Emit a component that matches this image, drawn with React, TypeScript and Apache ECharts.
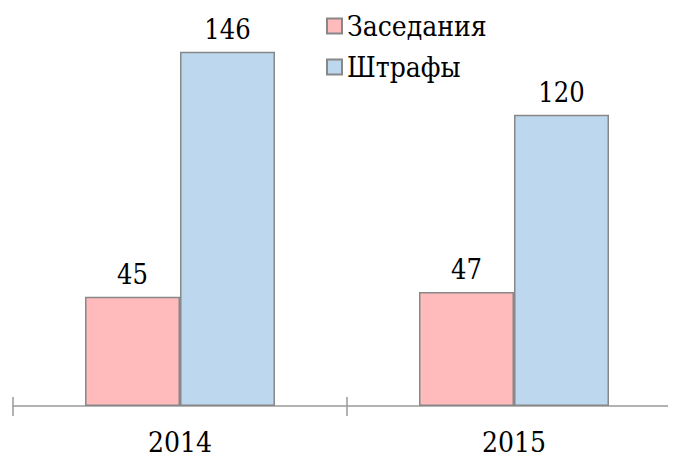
import React, { useEffect, useRef } from "react";
import * as echarts from "echarts";

const categories = ["2014", "2015"];
const seriesNames = ["Заседания", "Штрафы"];
const meetings = [45, 47];
const fines = [146, 120];

const FONT = "DejaVu Serif Condensed, DejaVu Serif";

export default function App() {
  const ref = useRef<HTMLDivElement>(null);
  useEffect(() => {
    if (!ref.current) return;
    const chart = echarts.init(ref.current, null, { renderer: "svg" });
    const labelStyle = {
      show: true,
      position: "top" as const,
      distance: 9,
      fontFamily: FONT,
      fontSize: 27,
      color: "#000",
    };
    chart.setOption({
      animation: false,
      backgroundColor: "#fff",
      textStyle: { fontFamily: FONT },
      legend: {
        orient: "vertical",
        left: 321,
        top: 6,
        itemWidth: 15,
        itemHeight: 15,
        itemGap: 11,
        icon: "rect",
        data: seriesNames,
        textStyle: { fontFamily: FONT, fontSize: 28, lineHeight: 30, color: "#000" },
      },
      grid: { left: 13, right: 4, top: 42, bottom: 54, containLabel: false },
      xAxis: [
        {
          type: "category",
          data: categories,
          axisLine: { show: true, lineStyle: { color: "#9a9a9a", width: 1.5 } },
          axisTick: { show: true, length: 10, lineStyle: { color: "#9a9a9a", width: 1.5 } },
          axisLabel: { fontFamily: FONT, fontSize: 28, color: "#000", margin: 22 },
        },
        {
          type: "category",
          data: categories,
          position: "bottom",
          axisLine: { show: false },
          axisTick: { show: true, inside: true, length: 9, lineStyle: { color: "#9a9a9a", width: 1.5 } },
          axisLabel: { show: false },
        },
      ],
      yAxis: { type: "value", min: 0, max: 150, show: false },
      series: [
        {
          name: seriesNames[0],
          type: "bar",
          data: meetings,
          barWidth: 95,
          barGap: "0%",
          itemStyle: { color: "#FFBBBC", borderColor: "#888888", borderWidth: 1.5 },
          label: labelStyle,
        },
        {
          name: seriesNames[1],
          type: "bar",
          data: fines,
          barWidth: 95,
          barGap: "0%",
          itemStyle: { color: "#BDD7EE", borderColor: "#888888", borderWidth: 1.5 },
          label: labelStyle,
        },
      ],
    });
    return () => chart.dispose();
  }, []);
  return (
    <div style={{ width: 676, height: 460, margin: -8, overflow: "hidden", position: "relative" }}>
      <div ref={ref} style={{ width: 685, height: 460 }} />
    </div>
  );
}
